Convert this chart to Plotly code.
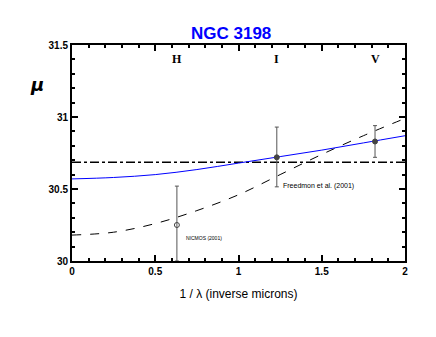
import plotly.graph_objects as go

# dados
inv_lambda = [0.0, 0.25, 0.5, 0.75, 1.0, 1.25, 1.5, 1.75, 2.0]
mu_fit_azul = [30.57, 30.58, 30.60, 30.635, 30.68, 30.725, 30.77, 30.82, 30.87]
mu_fit_tracejado = [30.18, 30.20, 30.26, 30.35, 30.46, 30.60, 30.74, 30.87, 30.99]
mu_medio = 30.685

bandas = ["H", "I", "V"]
x_bandas = [0.63, 1.23, 1.82]
mu_bandas = [30.25, 30.72, 30.83]
erro_sup = [0.27, 0.21, 0.11]
erro_inf = [0.25, 0.205, 0.11]

# área do gráfico em pixels (a página tem 8px de margem no body)
OFF = 8
L, R, T, B = 72 - OFF, 405 - OFF, 45 - OFF, 261 - OFF
W, H = 436, 337


def px_paper(xp, yp):
    return (xp - OFF - L) / (R - L), (B - (yp - OFF)) / (B - T)


fig = go.Figure()

fig.add_trace(go.Scatter(
    x=[inv_lambda[0], inv_lambda[-1]], y=[mu_medio, mu_medio],
    mode='lines', line=dict(color='black', width=1.5, dash='dashdot'),
    showlegend=False
))

fig.add_trace(go.Scatter(
    x=inv_lambda, y=mu_fit_tracejado, mode='lines',
    line=dict(color='black', width=1, dash='dash', shape='spline'),
    showlegend=False
))

fig.add_trace(go.Scatter(
    x=inv_lambda, y=mu_fit_azul, mode='lines',
    line=dict(color='blue', width=1, shape='spline'),
    showlegend=False
))

# pontos com barras de erro
simbolos = ['circle-open', 'circle', 'circle']
fig.add_trace(go.Scatter(
    x=x_bandas, y=mu_bandas, mode='markers',
    marker=dict(symbol=simbolos, size=5, color='#444444',
                line=dict(color='#444444', width=1)),
    error_y=dict(type='data', array=erro_sup, arrayminus=erro_inf,
                 color='#555555', thickness=1, width=2),
    showlegend=False
))

# rótulos das bandas
for b, xb in zip(bandas, x_bandas):
    fig.add_annotation(x=xb, y=31.40, text=f"<b>{b}</b>", showarrow=False,
                       font=dict(family='Liberation Serif', size=12, color='black'))

fig.add_annotation(x=0.675, y=30.16, text="NICMOS (2001)", showarrow=False,
                   xanchor='left', font=dict(family='Liberation Sans', size=5, color='black'))
fig.add_annotation(x=1.255, y=30.52, text="Freedmon et al. (2001)", showarrow=False,
                   xanchor='left', font=dict(family='Liberation Sans', size=7, color='black'))

tx, ty = px_paper(231, 22)
fig.add_annotation(x=tx, y=ty, xref='paper', yref='paper', text="<b>NGC 3198</b>",
                   showarrow=False, font=dict(family='Liberation Sans', size=17, color='blue'))

mx, my = px_paper(28, 72)
fig.add_annotation(x=mx, y=my, xref='paper', yref='paper',
                   text="<b><i>μ</i></b>", showarrow=False,
                   font=dict(family='DejaVu Sans', size=18, color='black'))

eixo = dict(showline=True, linecolor='black', linewidth=2, mirror='allticks',
            ticks='inside', ticklen=6, tickwidth=1.5, tickcolor='black',
            showgrid=False, zeroline=False, automargin=False,
            tickfont=dict(family='Liberation Sans', size=10, color='black'))

fig.update_layout(
    width=W, height=H,
    margin=dict(l=L, r=W - R, t=T, b=H - B),
    paper_bgcolor='white', plot_bgcolor='white',
    xaxis=dict(range=[0, 2], tickvals=[0, 0.5, 1, 1.5, 2],
               ticktext=['<b>0</b>', '<b>0.5</b>', '<b>1</b>', '<b>1.5</b>', '<b>2</b>'],
               minor=dict(dtick=0.1, ticks='inside', ticklen=3, tickcolor='black'),
               title=dict(text="1 / λ (inverse microns)", standoff=14,
                          font=dict(family='Liberation Sans', size=12, color='black')),
               **eixo),
    yaxis=dict(range=[30, 31.5], tickvals=[30, 30.5, 31, 31.5],
               ticktext=['<b>30</b>', '<b>30.5</b>', '<b>31</b>', '<b>31.5</b>'],
               minor=dict(dtick=0.1, ticks='inside', ticklen=3, tickcolor='black'),
               **eixo),
)

fig.write_html("out.html")
